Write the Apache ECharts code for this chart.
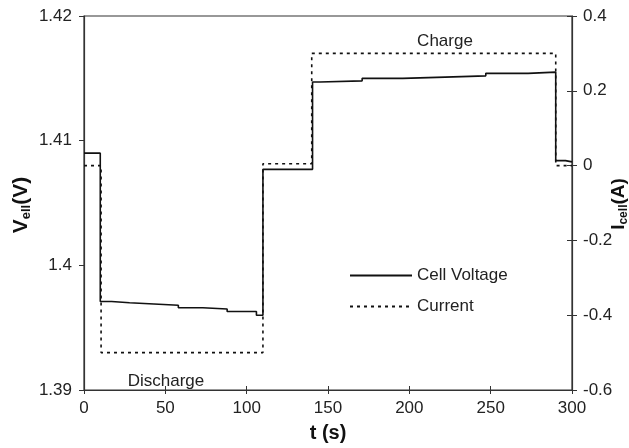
<!DOCTYPE html>
<html>
<head>
<meta charset="utf-8">
<script src="https://cdn.jsdelivr.net/npm/echarts@6/dist/echarts.min.js"></script>
<style>
  html, body { margin: 0; padding: 0; background: #fff; }
  #main { width: 629px; height: 448px; }
</style>
</head>
<body>
<div id="main"></div>
<script>
// cell voltage, step points (t in s, V)
var vTime = [0, 10, 17, 28, 43, 58, 73, 88, 106, 110, 140.5, 145, 171, 196, 222, 247, 273, 290, 296, 300]
var vCell = [1.4090, 1.3971, 1.3970, 1.3969, 1.3968, 1.3966, 1.3965, 1.3963, 1.3960, 1.4077,
             1.4147, 1.4148, 1.4150, 1.4151, 1.4152, 1.4154, 1.4155, 1.4084, 1.4083, 1.4083]
// current, step points (t in s, A)
var iTime = [0, 10.5, 110, 140, 290, 300]
var iCell = [0.0, -0.5, 0.005, 0.3, 0.0, 0.0]

var xTicks = { min: 0, max: 300, interval: 50 }
var font = 'Liberation Sans, Arial, sans-serif'

function pairs (xs, ys) {
  var out = []
  for (var i = 0; i < xs.length; i++) {
    out.push([xs[i], ys[i]])
  }
  return out
}

var chart = echarts.init(document.getElementById('main'))

var axisLine = { show: true, onZero: false, lineStyle: { color: '#333', width: 1.2 } }
var tickStyle = { color: '#333', width: 1 }
var nameRich = {
  a: { fontSize: 21, fontWeight: 'bold', fill: '#111', fontFamily: font, lineHeight: 24 },
  b: { fontSize: 13, fontWeight: 'bold', fill: '#111', fontFamily: font, lineHeight: 13, padding: [11, 0, 0, 0] }
}
var nameRichR = {
  a: { fontSize: 19, fontWeight: 'bold', fill: '#111', fontFamily: font, lineHeight: 22 },
  b: { fontSize: 12, fontWeight: 'bold', fill: '#111', fontFamily: font, lineHeight: 12, padding: [10, 0, 0, 0] }
}

var option = {
  animation: false,
  backgroundColor: '#fff',
  textStyle: { fontFamily: font },
  grid: {
    left: 84, right: 57, top: 16, bottom: 57,
    show: true, borderColor: '#333', borderWidth: 1.2
  },
  legend: {
    orient: 'vertical',
    left: 349,
    top: 267,
    padding: 0,
    itemWidth: 62,
    itemHeight: 14,
    itemGap: 14,
    itemStyle: { opacity: 0 },
    data: ['Cell Voltage', 'Current'],
    textStyle: { fontSize: 17, color: '#222', fontFamily: font }
  },
  xAxis: [
    {
      type: 'value', min: xTicks.min, max: xTicks.max, interval: xTicks.interval,
      position: 'bottom',
      axisLine: axisLine,
      axisTick: { show: true, inside: false, length: 4, lineStyle: tickStyle },
      axisLabel: { fontSize: 17, color: '#222', margin: 10, fontFamily: font },
      splitLine: { show: false },
      name: 't (s)', nameLocation: 'middle', nameGap: 33,
      nameTextStyle: { fontSize: 20, fontWeight: 'bold', color: '#111', fontFamily: font }
    },
    {
      type: 'value', min: xTicks.min, max: xTicks.max, interval: xTicks.interval,
      position: 'bottom',
      axisLine: { show: false, onZero: false },
      axisTick: { show: true, inside: true, length: 4, lineStyle: tickStyle },
      axisLabel: { show: false },
      splitLine: { show: false }
    }
  ],
  yAxis: [
    {
      type: 'value', min: 1.39, max: 1.42, interval: 0.01,
      position: 'left',
      axisLine: axisLine,
      axisTick: { show: true, inside: false, length: 5, lineStyle: tickStyle },
      axisLabel: { fontSize: 17, color: '#222', margin: 12, fontFamily: font,
        formatter: function (v) { return String(Math.round(v * 100) / 100) } },
      splitLine: { show: false }
    },
    {
      type: 'value', min: -0.6, max: 0.4, interval: 0.2,
      position: 'right',
      axisLine: axisLine,
      axisTick: { show: true, inside: false, length: 5, lineStyle: tickStyle },
      axisLabel: { fontSize: 17, color: '#222', margin: 11, fontFamily: font,
        formatter: function (v) { return String(Math.round(v * 10) / 10) } },
      splitLine: { show: false }
    },
    {
      type: 'value', min: -0.6, max: 0.4, interval: 0.2,
      position: 'right',
      axisLine: { show: false, onZero: false },
      axisTick: { show: true, inside: true, length: 5, lineStyle: tickStyle },
      axisLabel: { show: false },
      splitLine: { show: false }
    }
  ],
  series: [
    {
      name: 'Cell Voltage',
      type: 'line',
      step: 'end',
      yAxisIndex: 0,
      symbol: 'none',
      lineStyle: { color: '#111', width: 1.6, type: 'solid' },
      itemStyle: { color: '#111' },
      data: pairs(vTime, vCell),
      z: 3
    },
    {
      name: 'Current',
      type: 'line',
      step: 'end',
      yAxisIndex: 1,
      symbol: 'none',
      lineStyle: { color: '#111', width: 1.6, type: [3, 4] },
      itemStyle: { color: '#111' },
      data: pairs(iTime, iCell),
      z: 2
    }
  ],
  graphic: [
    {
      type: 'text', x: 445, y: 41,
      style: { text: 'Charge', fontSize: 17, fill: '#222', fontFamily: font, align: 'center', verticalAlign: 'middle' }
    },
    {
      type: 'text', x: 166, y: 381,
      style: { text: 'Discharge', fontSize: 17, fill: '#222', fontFamily: font, align: 'center', verticalAlign: 'middle' }
    },
    {
      type: 'text', x: 21, y: 205, rotation: Math.PI / 2,
      style: { text: '{a|V}{b|ell}{a|(V)}', align: 'center', verticalAlign: 'middle', rich: nameRich }
    },
    {
      type: 'text', x: 619, y: 204, rotation: Math.PI / 2,
      style: { text: '{a|I}{b|cell}{a|(A)}', align: 'center', verticalAlign: 'middle', rich: nameRichR }
    }
  ]
}

chart.setOption(option)
</script>
</body>
</html>
